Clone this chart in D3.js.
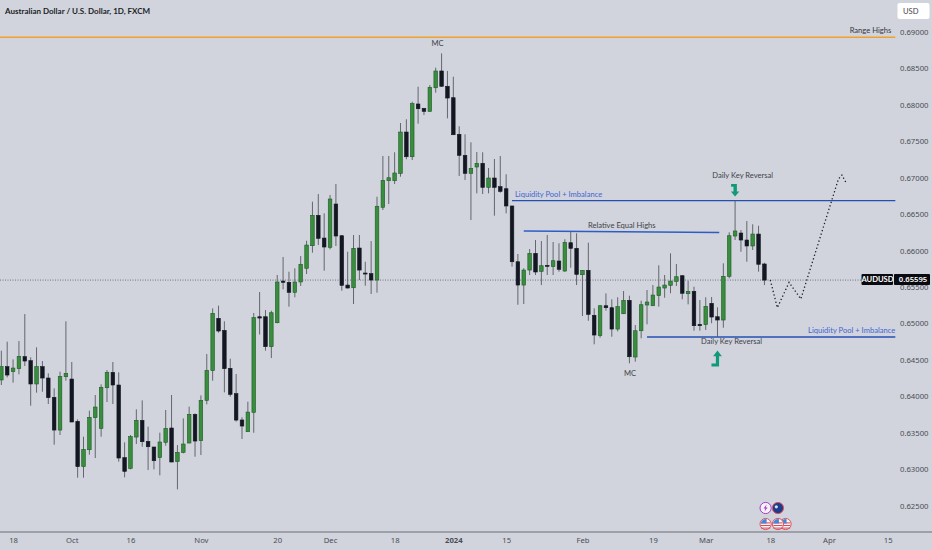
<!DOCTYPE html>
<html>
<head>
<meta charset="utf-8">
<script src="https://cdnjs.cloudflare.com/ajax/libs/d3/7.8.5/d3.min.js"></script>
<style>
  html, body { margin: 0; padding: 0; background: #d1d4dc; }
  svg { display: block; font-family: Lato, "Noto Sans", sans-serif; }
</style>
</head>
<body>
<div id="mydiv"></div>
<script>
// prices are in 1/100000 of a dollar, one entry per daily bar
let opens = [
  64224,64407,64338,64379,64544,64489,64169,64407,64251,63986,
  63537,64269,64237,63656,63034,63267,63707,63560,64118,64329,
  64155,63158,63011,63441,63670,63382,63304,63158,63368,63565,
  63103,63231,63359,63752,63391,63944,64352,65070,64905,64384,
  64036,63675,63514,63780,65092,65092,64681,65010,65582,65564,
  65427,65569,65757,66067,66484,66172,66045,66639,66204,65527,
  65490,66035,65692,65683,65596,66594,66959,66959,67060,67627,
  67288,68012,67953,67911,68235,68465,68255,68098,67596,67307,
  67060,67147,67198,66868,66996,66877,66849,66612,65847,65527,
  65733,65962,65715,65798,65779,65857,65719,66108,66031,65669,
  65729,65112,64832,65243,65216,64923,65133,65317,64539,64900,
  65253,65243,65381,65486,65523,65578,65655,65408,65441,64988,
  64983,65276,65092,65047,65647,66200,66241,66145,66063,66227,65816
];
let highs = [
  64626,64750,64507,64759,65129,64535,64672,64484,64315,64109,
  64338,65029,64471,63684,63446,63803,64018,64164,64361,64471,
  64329,63368,63469,63821,63944,63583,63308,63501,63812,64018,
  63331,63697,63858,63766,64013,64580,65207,65244,65029,64516,
  64306,63712,63926,65143,65431,65184,65175,65665,65912,65710,
  65757,65925,66135,66671,66776,66511,66763,66914,66214,65984,
  66214,66214,65847,66131,66739,67298,67298,67349,67751,67802,
  68043,68249,67953,68272,68510,68707,68465,68386,67706,67596,
  67486,67353,67349,67133,67257,67298,67047,66616,65953,65757,
  66021,66145,66131,66214,66118,66100,66155,66259,66237,65733,
  66108,65208,65253,65413,65331,65359,65445,65381,64978,65312,
  65459,65527,65798,65665,65962,65816,65665,65586,65504,65321,
  65359,65363,65221,65825,66251,66694,66282,66406,66361,66341,65833
];
let lows = [
  64155,64260,64187,64301,64416,63871,64050,64063,63894,63336,
  63469,64214,63647,62883,62883,63199,63153,63446,63922,63894,
  63103,62888,62997,63345,63308,62988,62997,62915,63322,63098,
  62723,63217,63354,63171,63194,63890,64214,64873,64054,63995,
  63652,63414,63514,63500,64848,64626,64525,65002,65468,65230,
  65359,65514,65678,65971,66076,65724,66017,66063,65449,65482,
  65267,65596,65518,65404,65422,66557,66639,66914,67014,67253,
  67243,67741,67861,67906,68167,68249,67815,67586,67023,66968,
  66419,66786,66776,66786,66479,66794,66511,65779,65257,65267,
  65665,65665,65527,65665,65665,65710,65710,65765,65527,65102,
  65037,64714,64804,65175,64818,64892,65129,64453,64475,64796,
  64988,65243,65230,65353,65414,65514,65331,65262,64900,64900,
  64910,65002,64818,64941,65619,66145,65984,65847,66008,65710,65527
];
let closes = [
  64407,64292,64388,64548,64484,64169,64407,64251,63981,63537,
  64274,64315,63647,63034,63272,63711,63853,64123,64329,64155,
  63153,62970,63446,63670,63377,63308,63116,63373,63560,63098,
  63231,63345,63752,63386,63944,64356,65139,64896,64379,64027,
  63674,63592,63784,65079,65074,64681,65147,65569,65564,65427,
  65569,65812,66076,66484,66168,66049,66708,66200,65523,65486,
  66031,65733,65678,65596,66608,66964,67000,67065,67627,67288,
  68016,67947,67911,68241,68465,68255,68094,67590,67307,67060,
  67129,67198,66868,66996,66868,66813,66612,65847,65527,65733,
  65962,65706,65792,65784,65861,65743,66113,66031,65674,65729,
  65125,64841,65243,65216,64923,65230,65317,64543,64900,65257,
  65294,65390,65500,65527,65582,65641,65414,65441,64969,64969,
  65235,65088,65047,65647,66204,66269,66145,66063,66227,65812,65595
];

let priceTicks = [0.625,0.63,0.635,0.64,0.645,0.65,0.655,0.66,0.665,0.67,0.675,0.68,0.685,0.69];
let dateTicks = [2,12,22,34,47,56,67,77,86,99,111,120,131,141,151];
let dateLabels = ['18','Oct','16','Nov','20','Dec','18','2024','15','Feb','19','Mar','18','Apr','15'];

// drawn levels: [bar from, price from, bar to, price to]
let rangeHighs = [-1, 68927, 152.3, 68927];
let upperPool = [87, 66685, 152.3, 66685];
let equalHighs = [89, 66269, 122.3, 66248];
let lowerPool = [110, 64814, 152.3, 64814];
let projection = [[131,65596],[132.2,65216],[134.2,65564],[136.2,65335],[142.6,66980],[143.2,67037],[143.9,66932]];

let width = 932;
let height = 550;

let x = d3.scaleLinear().domain([0, 100]).range([1.33, 588.33]);
let y = d3.scaleLinear().domain([0.69, 0.625]).range([32, 505.6]);
let py = v => y(v / 100000);

let svg = d3.select('#mydiv')
  .append('svg')
  .attr('width', width)
  .attr('height', height)
  .style('background-color', '#d1d4dc');

// last price dotted line
svg.append('line')
  .attr('x1', 0)
  .attr('x2', 862)
  .attr('y1', py(closes[closes.length - 1]))
  .attr('y2', py(closes[closes.length - 1]))
  .attr('stroke', '#4a4d55')
  .attr('stroke-width', 0.7)
  .attr('stroke-dasharray', '1 1.5');

// candles
let bars = opens.map((o, i) => ({ i: i, o: o, h: highs[i], l: lows[i], c: closes[i] }));

svg.selectAll('line.wick')
  .data(bars)
  .enter()
  .append('line')
  .attr('class', 'wick')
  .attr('x1', d => x(d.i))
  .attr('x2', d => x(d.i))
  .attr('y1', d => py(d.h))
  .attr('y2', d => py(d.l))
  .attr('stroke', '#63666d')
  .attr('stroke-width', 1);

svg.selectAll('rect.body')
  .data(bars)
  .enter()
  .append('rect')
  .attr('class', 'body')
  .attr('x', d => x(d.i) - 1.8)
  .attr('width', 3.6)
  .attr('y', d => py(Math.max(d.o, d.c)))
  .attr('height', d => Math.max(1, Math.abs(py(d.o) - py(d.c))))
  .attr('fill', d => d.c >= d.o ? '#388e3c' : '#131722')
  .attr('stroke', d => d.c >= d.o ? '#1f5a27' : '#131722')
  .attr('stroke-width', 0.6);

// price axis, right side
let yAxis = d3.axisRight(y)
  .tickValues(priceTicks)
  .tickSize(0)
  .tickPadding(0)
  .tickFormat(d3.format('.5f'));

let yg = svg.append('g')
  .attr('transform', 'translate(900,0)')
  .call(yAxis);
yg.select('.domain').remove();
yg.selectAll('text')
  .attr('font-family', '"Noto Sans", sans-serif')
  .attr('font-size', 7.7)
  .attr('fill', '#4a4d55');

// time axis
let xAxis = d3.axisBottom(x)
  .tickValues(dateTicks)
  .tickSize(0)
  .tickPadding(6)
  .tickFormat((d, i) => dateLabels[i]);

let xg = svg.append('g')
  .attr('transform', 'translate(0,532)')
  .call(xAxis);
xg.select('.domain').remove();
xg.selectAll('text')
  .attr('font-family', '"Noto Sans", sans-serif')
  .attr('font-size', 7.7)
  .attr('fill', '#4a4d55')
  .attr('font-weight', d => dateLabels[dateTicks.indexOf(d)] == '2024' ? 700 : 400);

svg.append('line')
  .attr('x1', 0).attr('x2', 932)
  .attr('y1', 532).attr('y2', 532)
  .attr('stroke', '#6a6d75')
  .attr('stroke-width', 1);

// levels
let level = (l, color, w) => {
  svg.append('line')
    .attr('x1', x(l[0]))
    .attr('y1', py(l[1]))
    .attr('x2', x(l[2]))
    .attr('y2', py(l[3]))
    .attr('stroke', color)
    .attr('stroke-width', w);
};
level(rangeHighs, '#f2a02c', 1.5);
level(upperPool, '#2450b4', 1.3);
level(equalHighs, '#2f5cc4', 1.3);
level(lowerPool, '#2450b4', 1.3);

// expected path
let projLine = d3.line()
  .x(d => x(d[0]))
  .y(d => py(d[1]));

svg.append('path')
  .attr('d', projLine(projection))
  .attr('fill', 'none')
  .attr('stroke', '#1c1e24')
  .attr('stroke-width', 1.3)
  .attr('stroke-dasharray', '1.3 2.4');

// annotations, anchored on bars and prices
let label = (txt, bar, price, color, anchor) => {
  svg.append('text')
    .attr('x', x(bar))
    .attr('y', py(price))
    .attr('text-anchor', anchor || 'middle')
    .attr('font-size', 7.6)
    .attr('fill', color)
    .text(txt);
};
label('MC', 74.3, 68808, '#3f4248');
label('MC', 107.1, 64278, '#3f4248');
label('Liquidity Pool + Imbalance', 87.5, 66735, '#3f66d0', 'start');
label('Relative Equal Highs', 105.7, 66315, '#3f4248');
label('Daily Key Reversal', 126.3, 66996, '#3f4248');
label('Daily Key Reversal', 124.4, 64718, '#3f4248');
label('Liquidity Pool + Imbalance', 152.3, 64875, '#3f66d0', 'end');
label('Range Highs', 151.6, 68980, '#34373d', 'end');

// teal elbow arrows at the two reversal bars
let arrowDown = 'M-4 -6H1.8V1.5H4.2L0 6.5L-4.2 1.5H-1.6V-3.4H-4Z';
let arrowUp = 'M-6 8.5V5.4H-1.6V-1.8H-4.4L0 -7.5L4.4 -1.8H1.6V8.5Z';

svg.append('path')
  .attr('d', arrowDown)
  .attr('transform', `translate(${x(125)},${py(66831)})`)
  .attr('fill', '#109a7a');

svg.append('path')
  .attr('d', arrowUp)
  .attr('transform', `translate(${x(122)},${py(64525)})`)
  .attr('fill', '#109a7a');

// price tag
let tagY = py(closes[closes.length - 1]);
svg.append('rect')
  .attr('x', 861.5).attr('y', tagY - 6)
  .attr('width', 31.5).attr('height', 11)
  .attr('rx', 1).attr('fill', '#0a0b10');
svg.append('rect')
  .attr('x', 894).attr('y', tagY - 6)
  .attr('width', 36).attr('height', 11)
  .attr('rx', 1).attr('fill', '#0a0b10');
svg.append('text')
  .attr('x', 877.5).attr('y', tagY + 2.4)
  .attr('text-anchor', 'middle')
  .attr('font-size', 7.6)
  .attr('font-weight', 700)
  .attr('fill', '#ffffff')
  .text('AUDUSD');
svg.append('text')
  .attr('x', 913).attr('y', tagY + 2.4)
  .attr('text-anchor', 'middle')
  .attr('font-family', '"Noto Sans", sans-serif')
  .attr('font-size', 7.7)
  .attr('font-weight', 600)
  .attr('fill', '#ffffff')
  .text('0.65595');

// header
svg.append('text')
  .attr('x', 5).attr('y', 13.5)
  .attr('font-size', 8)
  .attr('font-weight', 700)
  .attr('fill', '#1c1f27')
  .text('Australian Dollar / U.S. Dollar, 1D, FXCM');

svg.append('rect')
  .attr('x', 897.5).attr('y', 3)
  .attr('width', 32).attr('height', 16)
  .attr('rx', 2)
  .attr('fill', '#ffffff');
svg.append('text')
  .attr('x', 903).attr('y', 14)
  .attr('font-size', 7.6)
  .attr('fill', '#3f4248')
  .text('USD');

// event markers above the time axis
let usFlag = (bar, cy) => {
  let cx = x(bar);
  let g = svg.append('g').attr('transform', `translate(${cx},${cy})`);
  g.append('circle').attr('r', 5.6).attr('fill', '#f4f4f6').attr('stroke', '#e0525f').attr('stroke-width', 1);
  [-1.6, 1, 3.6].forEach(s => {
    g.append('rect').attr('x', -4.6).attr('y', s).attr('width', 9.2).attr('height', 1).attr('fill', '#dd4a55');
  });
  g.append('path').attr('d', 'M-4.8 -0.6A5 5 0 0 1 1 -4.8V-0.6Z').attr('fill', '#3f8ad8');
};
usFlag(133.6, 524);
usFlag(132.3, 524);
usFlag(130.2, 524);

let boltG = svg.append('g').attr('transform', `translate(${x(130.2)},508)`);
boltG.append('circle').attr('r', 5.6).attr('fill', '#f4f0f8').attr('stroke', '#a13fc0').attr('stroke-width', 1);
boltG.append('path').attr('d', 'M1 -3.4L-2 0.6H-0.2L-1 3.4L2 -0.6H0.2Z').attr('fill', '#a13fc0');

let auG = svg.append('g').attr('transform', `translate(${x(132.3)},508)`);
auG.append('circle').attr('r', 5.6).attr('fill', '#1c3c8c').attr('stroke', '#e0525f').attr('stroke-width', 1);
auG.append('circle').attr('cx', -1.6).attr('cy', -1.2).attr('r', 1.6).attr('fill', '#d8dcec');
</script>
</body>
</html>
